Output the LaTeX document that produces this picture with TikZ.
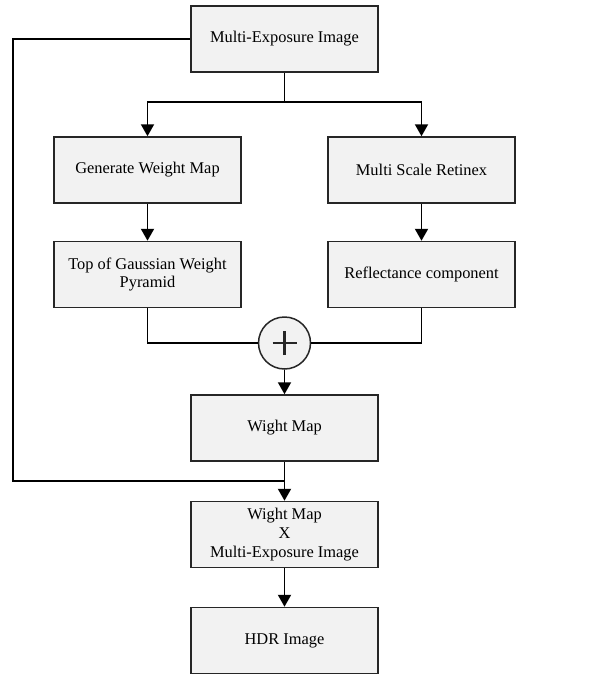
\documentclass[tikz,border=0pt]{standalone}
\usepackage{fontspec}
\setmainfont{Liberation Serif}
\usetikzlibrary{arrows.meta}
\definecolor{boxfill}{HTML}{F2F2F2}
\begin{document}
\begin{tikzpicture}[x=1pt,y=-1pt,
  blk/.style={draw=black!85,line width=1.5pt,fill=boxfill,minimum width=187pt,minimum height=66pt,
    inner sep=0pt,align=center,font=\fontsize{16.4}{18.8}\selectfont},
  conn/.style={line width=1.9pt,draw=black},
  arr/.style={conn,-{Triangle[length=12pt,width=13pt]}},
  sumnode/.style={circle,draw=black!85,line width=1.5pt,fill=boxfill,minimum size=52pt,inner sep=0pt,
    path picture={\draw[line width=2.4pt] ([xshift=-12pt]path picture bounding box.center) -- ([xshift=12pt]path picture bounding box.center);
      \draw[line width=2.4pt] ([yshift=-12pt]path picture bounding box.center) -- ([yshift=12pt]path picture bounding box.center);}}
]
\useasboundingbox (0,0) rectangle (592,675);
\node[blk] (mei) at (284.5,39) {Multi-Exposure Image};
\node[blk] (gwm) at (147.5,170) {Generate Weight Map};
\node[blk] (msr) at (421.5,170) {Multi Scale Retinex};
\node[blk] (gwp) at (147.5,274.5) {Top of Gaussian Weight\\Pyramid};
\node[blk] (rc) at (421.5,274.5) {Reflectance component};
\node[sumnode] (sum) at (284.5,343) {};
\node[blk] (wm) at (284.5,428) {Wight Map};
\node[blk] (wme) at (284.5,534.5) {Wight Map\\X\\Multi-Exposure Image};
\node[blk] (hdr) at (284.5,640.5) {HDR Image};
\coordinate (split) at (284.5,102);
\coordinate (tl) at (13,39);
\coordinate (bl) at (13,481);
\coordinate (join) at (284.5,481);
\draw[conn] (mei.south) -- (split);
\draw[arr] (split) -| (gwm.north);
\draw[arr] (split) -| (msr.north);
\draw[arr] (gwm) -- (gwp);
\draw[arr] (msr) -- (rc);
\draw[conn] (gwp.south) |- (sum.west);
\draw[conn] (rc.south) |- (sum.east);
\draw[arr] (sum) -- (wm);
\draw[arr] (wm) -- (wme);
\draw[conn] (mei.west) -- (tl) -- (bl) -- (join);
\draw[arr] (wme) -- (hdr);
\end{tikzpicture}
\end{document}
